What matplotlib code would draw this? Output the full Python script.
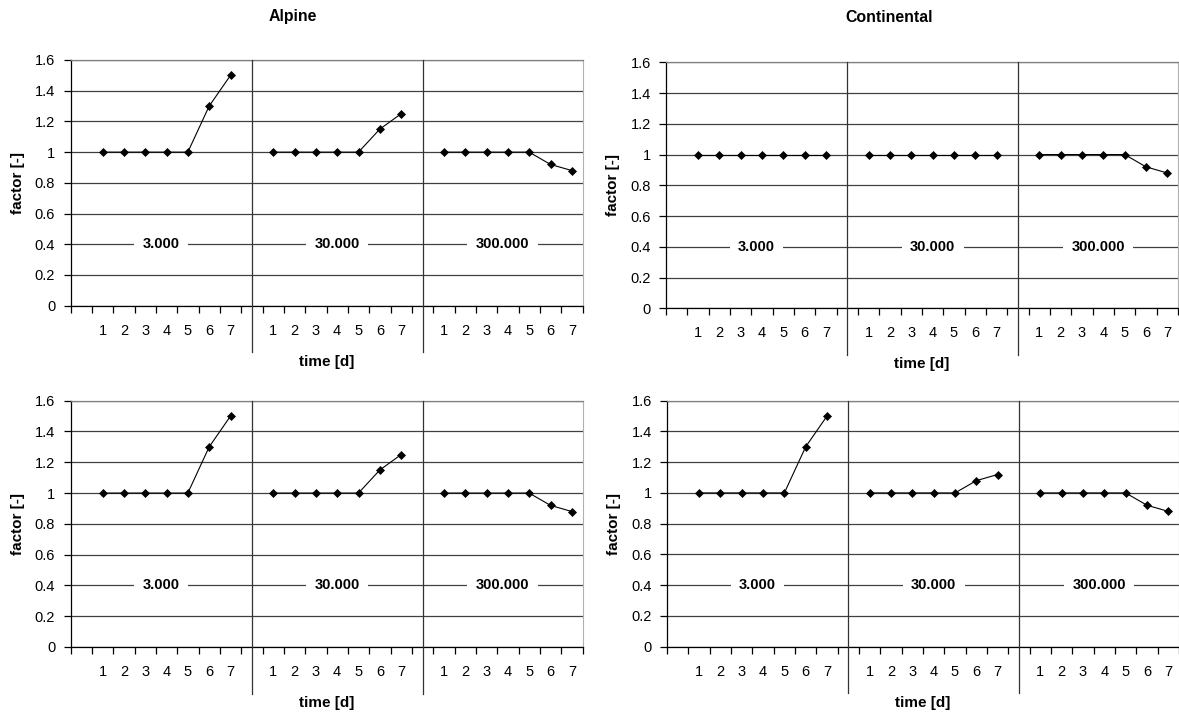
import matplotlib.pyplot as plt
import numpy as np

plt.rcParams['font.family'] = ['Liberation Sans', 'DejaVu Sans']

# data: factor per day, three groups (3.000 / 30.000 / 300.000) per panel
days = [1, 2, 3, 4, 5, 6, 7]
groups = ['3.000', '30.000', '300.000']

alpine_top = [
    [1, 1, 1, 1, 1, 1.30, 1.50],
    [1, 1, 1, 1, 1, 1.15, 1.25],
    [1, 1, 1, 1, 1, 0.92, 0.88],
]
continental_top = [
    [1, 1, 1, 1, 1, 1, 1],
    [1, 1, 1, 1, 1, 1, 1],
    [1, 1, 1, 1, 1, 0.92, 0.88],
]
alpine_bottom = [
    [1, 1, 1, 1, 1, 1.30, 1.50],
    [1, 1, 1, 1, 1, 1.15, 1.25],
    [1, 1, 1, 1, 1, 0.92, 0.88],
]
continental_bottom = [
    [1, 1, 1, 1, 1, 1.30, 1.50],
    [1, 1, 1, 1, 1, 1.08, 1.12],
    [1, 1, 1, 1, 1, 0.92, 0.88],
]

yticks = [0, 0.2, 0.4, 0.6, 0.8, 1, 1.2, 1.4, 1.6]

W, H = 1179, 713
fig = plt.figure(figsize=(W / 100, H / 100), dpi=100)


def px_rect(left, top, right, bottom):
    return [left / W, 1 - bottom / H, (right - left) / W, (bottom - top) / H]


panels = [
    (alpine_top, px_rect(70.5, 60, 582.5, 305.7)),
    (continental_top, px_rect(666, 62.3, 1178, 308.3)),
    (alpine_bottom, px_rect(70.5, 400.7, 582.5, 647)),
    (continental_bottom, px_rect(667, 400.7, 1179, 646.7)),
]

n_per_group = len(days) + 1  # one empty category in front of each group
n_cat = n_per_group * len(groups)

for data, rect in panels:
    ax = fig.add_axes(rect)
    for g, vals in enumerate(data):
        xs = [g * n_per_group + d for d in days]
        ax.plot(xs, vals, color='black', lw=0.8, marker='D', ms=3.9,
                mfc='black', mec='black', mew=0.5, zorder=4)

    ax.set_xlim(-0.5, n_cat - 0.5)
    ax.set_ylim(0, 1.6)

    # category labels at centres, ticks at boundaries
    labels = []
    for g in range(len(groups)):
        labels += [''] + [str(d) for d in days]
    ax.set_xticks(np.arange(n_cat))
    ax.set_xticklabels(labels)
    ax.set_xticks(np.arange(-0.5, n_cat, 1), minor=True)
    ax.tick_params(axis='x', which='major', length=0, pad=13, labelsize=10.5)
    ax.tick_params(axis='x', which='minor', length=5, width=0.9, direction='out')

    ax.set_yticks(yticks)
    ax.set_yticklabels(['%g' % v for v in yticks])
    ax.tick_params(axis='y', length=5, width=0.9, pad=6, labelsize=10.5)

    ax.yaxis.grid(True, color='#404040', lw=0.9)
    ax.set_axisbelow(True)

    ax.spines['left'].set_color('black')
    ax.spines['bottom'].set_color('black')
    ax.spines['left'].set_linewidth(0.9)
    ax.spines['bottom'].set_linewidth(0.9)
    ax.spines['top'].set_color('#808080')
    ax.spines['right'].set_color('#b0b0b0')
    ax.spines['top'].set_linewidth(0.9)
    ax.spines['right'].set_linewidth(0.8)

    # group dividers, running down past the tick labels
    bounds = [-0.5]
    for g in range(1, len(groups)):
        xd = g * n_per_group
        bounds.append(xd)
        ax.plot([xd, xd], [-0.19, 1], color='#333333', lw=0.9,
                transform=ax.get_xaxis_transform(), clip_on=False, zorder=3)
    bounds.append(n_cat - 0.5)

    for g, name in enumerate(groups):
        cx = (bounds[g] + bounds[g + 1]) / 2
        ax.text(cx, 0.4, name, ha='center', va='center', fontsize=10.5,
                fontweight='bold', zorder=5,
                bbox=dict(fc='white', ec='none', pad=6))

    ax.set_ylabel('factor [-]', fontsize=11, fontweight='bold')
    ax.yaxis.set_label_coords(-0.103, 0.5)
    ax.yaxis.label.set_va('center')
    ax.set_xlabel('time [d]', fontsize=11, fontweight='bold')
    ax.xaxis.set_label_coords(0.5, -0.228)
    ax.xaxis.label.set_va('center')

fig.text(292.5 / W, 1 - 17 / H, 'Alpine', ha='center', va='center',
         fontsize=11.4, fontweight='bold')
fig.text(889.5 / W, 1 - 18 / H, 'Continental', ha='center', va='center',
         fontsize=11.4, fontweight='bold')

fig.savefig('out.png', dpi=100)
